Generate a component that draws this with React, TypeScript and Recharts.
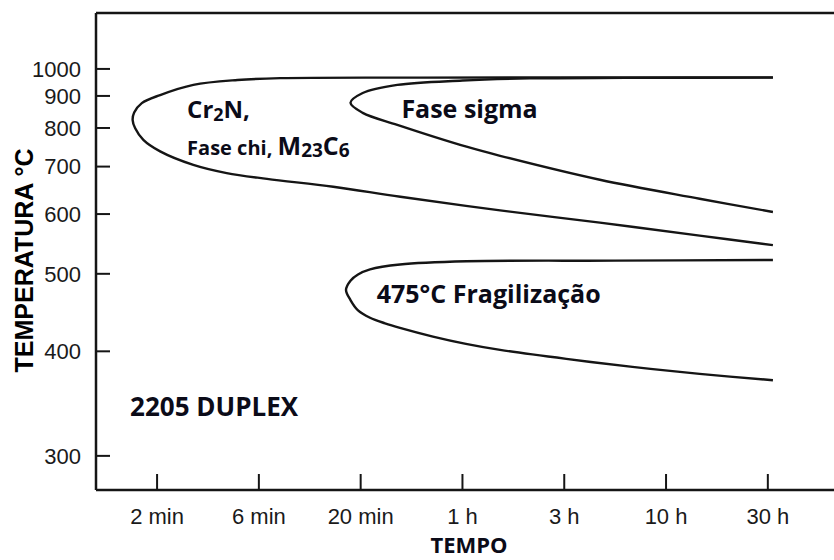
import React from "react";
import { LineChart, Line, XAxis, YAxis, ReferenceLine, ReferenceDot } from "recharts";

// ─── Data ────────────────────────────────────────────────────────────────────
// Time axis: ticks evenly spaced, position 0 = 2 min ... 6 = 30 h
const TIME_LABELS = ["2 min", "6 min", "20 min", "1 h", "3 h", "10 h", "30 h"];
const TIME_TICKS = TIME_LABELS.map((_, i) => i);
const TEMP_TICKS = [300, 400, 500, 600, 700, 800, 900, 1000];

// Cr2N / fase chi / M23C6 (upper branch right→left, nose, lower branch left→right)
const CHI_POS = [6.05, 4.3, 2.58, 1.21, 0.79, 0.356, 0.03, -0.15, -0.225, -0.24, -0.215, -0.135, 0.03, 0.356, 0.684, 1.08, 1.73, 2.39, 3.37, 4.35, 5.33, 6.05];
const CHI_TEMP = [967, 966.5, 966, 964, 957, 939, 903, 876, 846, 823, 799, 767, 737, 704, 685, 672, 655, 634, 607, 584, 561, 545];

// fase sigma
const SIGMA_POS = [6.05, 4.6, 3.66, 3.0, 2.36, 2.02, 1.9, 2.02, 2.36, 3.04, 3.37, 4.35, 5.33, 6.05];
const SIGMA_TEMP = [966, 965, 963, 955, 939, 910, 877, 845, 809, 749, 726, 670, 630, 604];

// 475 °C fragilização
const FRAG_POS = [6.05, 4.5, 3.04, 2.386, 2.092, 1.974, 1.9, 1.856, 1.9, 1.974, 2.092, 2.239, 2.386, 2.71, 3.034, 3.37, 4.02, 4.67, 5.33, 6.05];
const FRAG_TEMP = [521, 520, 519, 514, 506.6, 499, 490, 477, 463, 449.4, 440, 433, 427.4, 417, 408.5, 401.6, 391.6, 383, 375.6, 369];

// ─── Scale helpers ───────────────────────────────────────────────────────────
// temperature axis is reciprocal kelvin, like the original diagram
const toK = (t: number) => 1000 / (t + 273);
const fromK = (k: number) => String(Math.round(1000 / k - 273));

const build = (pos: number[], temp: number[]) =>
  pos.map((p, i) => ({ pos: p, k: toK(temp[i]) }));

const chiData = build(CHI_POS, CHI_TEMP);
const sigmaData = build(SIGMA_POS, SIGMA_TEMP);
const fragData = build(FRAG_POS, FRAG_TEMP);

const X_DOMAIN = [-0.6, 6.65];
const Y_DOMAIN = [toK(1273), toK(273.5)];

const TICK_FONT = "'Liberation Sans', Arial, sans-serif";
const NOTE_FONT = "'Open Sans', 'Noto Sans', sans-serif";
const INK = "#151515";
const NOTE_INK = "#0b0b18";

// centripetal Catmull-Rom, so the C-shaped curves stay smooth round the nose
function catmullRom(context: any) {
  let pts: number[][] = [];
  return {
    areaStart() {},
    areaEnd() {},
    lineStart() {
      pts = [];
    },
    point(x: number, y: number) {
      pts.push([+x, +y]);
    },
    lineEnd() {
      const n = pts.length;
      if (!n) return;
      context.moveTo(pts[0][0], pts[0][1]);
      for (let i = 0; i < n - 1; i++) {
        const p0 = pts[Math.max(i - 1, 0)];
        const p1 = pts[i];
        const p2 = pts[i + 1];
        const p3 = pts[Math.min(i + 2, n - 1)];
        const d01 = Math.hypot(p1[0] - p0[0], p1[1] - p0[1]);
        const d12 = Math.hypot(p2[0] - p1[0], p2[1] - p1[1]);
        const d23 = Math.hypot(p3[0] - p2[0], p3[1] - p2[1]);
        const a01 = Math.sqrt(d01), a12 = Math.sqrt(d12), a23 = Math.sqrt(d23);
        let c1 = p1;
        let c2 = p2;
        if (a01 > 1e-6) {
          const a = 2 * d01 + 3 * a01 * a12 + d12;
          const m = 3 * a01 * (a01 + a12);
          c1 = [(p1[0] * a - p0[0] * d12 + p2[0] * d01) / m, (p1[1] * a - p0[1] * d12 + p2[1] * d01) / m];
        }
        if (a23 > 1e-6) {
          const b = 2 * d23 + 3 * a23 * a12 + d12;
          const m = 3 * a23 * (a23 + a12);
          c2 = [(p2[0] * b + p1[0] * d23 - p3[0] * d12) / m, (p2[1] * b + p1[1] * d23 - p3[1] * d12) / m];
        }
        context.bezierCurveTo(c1[0], c1[1], c2[0], c2[1], p2[0], p2[1]);
      }
    },
  };
}

// ─── Axis titles ─────────────────────────────────────────────────────────────
function YTitle(props: any) {
  const vb = props.viewBox ?? { x: 0, y: 13, width: 96, height: 477 };
  const cx = vb.x + 33;
  const cy = vb.y + vb.height / 2 + 9;
  return (
    <text
      x={cx}
      y={cy}
      transform={`rotate(-90 ${cx} ${cy})`}
      textAnchor="middle"
      fontFamily={TICK_FONT}
      fontWeight={700}
      fontSize={25}
      fill="#000"
    >
      TEMPERATURA °C
    </text>
  );
}

function XTitle(props: any) {
  const vb = props.viewBox ?? { x: 96, y: 490, width: 738, height: 70 };
  return (
    <text
      x={vb.x + vb.width / 2 + 4}
      y={vb.y + 63}
      textAnchor="middle"
      fontFamily={NOTE_FONT}
      fontWeight={700}
      fontSize={22}
      fill={NOTE_INK}
    >
      TEMPO
    </text>
  );
}

// ─── Annotations ─────────────────────────────────────────────────────────────
const noteStyle = { fontFamily: NOTE_FONT, fontWeight: 700, fill: NOTE_INK } as const;

const Cr2N = ({ cx, cy }: any) => (
  <text x={cx} y={cy} fontSize={24} {...noteStyle}>
    Cr<tspan fontSize={18} dy={3}>2</tspan>
    <tspan dy={-3}>N,</tspan>
  </text>
);

const ChiNote = ({ cx, cy }: any) => (
  <text x={cx} y={cy} fontSize={20} {...noteStyle}>
    Fase chi, <tspan fontSize={25}>M</tspan>
    <tspan fontSize={19} dy={2}>23</tspan>
    <tspan fontSize={25} dy={-2}>C</tspan>
    <tspan fontSize={19} dy={2}>6</tspan>
  </text>
);

const plainNote = (text: string, size: number) => ({ cx, cy }: any) => (
  <text x={cx} y={cy} fontSize={size} {...noteStyle}>
    {text}
  </text>
);

const lineProps = {
  dataKey: "k",
  type: catmullRom as any,
  stroke: INK,
  strokeWidth: 2.4,
  dot: false,
  activeDot: false,
  isAnimationActive: false,
};

// ─── Main component ──────────────────────────────────────────────────────────
export default function App() {
  return (
    <div style={{ position: "absolute", left: 0, top: 0, width: 834, height: 560, background: "#fff" }}>
      <LineChart width={834} height={560} margin={{ top: 13, right: 0, bottom: 0, left: 0 }}>
        <XAxis
          type="number"
          dataKey="pos"
          domain={X_DOMAIN}
          allowDataOverflow
          ticks={TIME_TICKS}
          interval={0}
          tickFormatter={(v: number) => TIME_LABELS[Math.round(v)]}
          height={70}
          tickSize={-16}
          tickMargin={34}
          axisLine={{ stroke: INK, strokeWidth: 2.5 }}
          tickLine={{ stroke: INK, strokeWidth: 2 }}
          tick={{ fill: "#1a1a1a", fontSize: 22, fontFamily: TICK_FONT }}
          label={<XTitle />}
        />
        <YAxis
          type="number"
          domain={Y_DOMAIN}
          reversed
          allowDataOverflow
          ticks={TEMP_TICKS.map(toK)}
          interval={0}
          tickFormatter={fromK}
          width={96}
          tickSize={-14}
          tickMargin={29}
          axisLine={{ stroke: INK, strokeWidth: 2.5 }}
          tickLine={{ stroke: INK, strokeWidth: 2 }}
          tick={{ fill: "#1a1a1a", fontSize: 22, fontFamily: TICK_FONT }}
          label={<YTitle />}
        />

        {/* top frame line */}
        <ReferenceLine y={Y_DOMAIN[0]} stroke={INK} strokeWidth={2.5} />

        <Line data={chiData} {...lineProps} />
        <Line data={sigmaData} {...lineProps} />
        <Line data={fragData} {...lineProps} />

        <ReferenceDot x={0.295} y={toK(830)} r={1} shape={Cr2N} />
        <ReferenceDot x={0.295} y={toK(728)} r={1} shape={ChiNote} />
        <ReferenceDot x={2.4} y={toK(830)} r={1} shape={plainNote("Fase sigma", 25)} />
        <ReferenceDot x={2.158} y={toK(459)} r={1} shape={plainNote("475°C Fragilização", 25)} />
        <ReferenceDot x={-0.265} y={toK(334)} r={1} shape={plainNote("2205 DUPLEX", 26)} />
      </LineChart>
    </div>
  );
}
